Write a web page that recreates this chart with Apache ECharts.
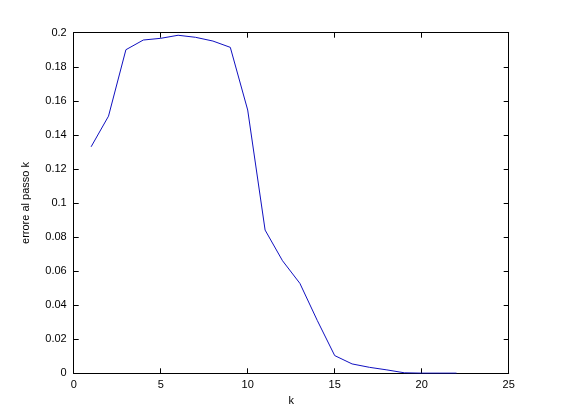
<!DOCTYPE html>
<html>
<head>
<meta charset="utf-8">
<script src="https://cdn.jsdelivr.net/npm/echarts@6/dist/echarts.min.js"></script>
<style>
  html,body{margin:0;padding:0;background:#fff;}
  #chart{width:561px;height:420px;}
</style>
</head>
<body>
<div id="chart"></div>
<script>
// k steps and error values
const steps = [1,2,3,4,5,6,7,8,9,10,11,12,13,14,15,16,17,18,19,20,21,22];
const errors = [0.133,0.151,0.190,0.1957,0.1967,0.1985,0.1973,0.1951,0.1914,0.1546,0.0841,0.0661,0.0528,0.031,0.0104,0.0055,0.0035,0.002,0.0003,0.0001,0.0001,0.0001];
const xLabel = 'k';
const yLabel = 'errore al passo k';

const chart = echarts.init(document.getElementById('chart'), null, {renderer:'canvas'});
const font = 'Liberation Sans, Arial, sans-serif';
const frame = {show:true, onZero:false, lineStyle:{color:'#000', width:1}};
const tickIn = {show:true, inside:true, length:5, lineStyle:{color:'#000'}};

chart.setOption({
  animation:false,
  backgroundColor:'#fff',
  grid:{left:73.7, right:52.3, top:32.7, bottom:46.7},
  xAxis:[
    {type:'value', min:0, max:25, interval:5, position:'bottom',
     name:xLabel, nameLocation:'middle', nameGap:22,
     nameTextStyle:{color:'#000', fontSize:11, fontFamily:font},
     axisLine:frame, axisTick:tickIn, splitLine:{show:false},
     axisLabel:{color:'#000', fontSize:11, fontFamily:font, margin:6}},
    {type:'value', min:0, max:25, interval:5, position:'top',
     axisLine:frame, axisTick:tickIn, splitLine:{show:false}, axisLabel:{show:false}}
  ],
  yAxis:[
    {type:'value', min:0, max:0.2, interval:0.02, position:'left',
     name:yLabel, nameLocation:'middle', nameGap:42,
     nameTextStyle:{color:'#000', fontSize:11, fontFamily:font},
     axisLine:frame, axisTick:tickIn, splitLine:{show:false},
     axisLabel:{color:'#000', fontSize:11, fontFamily:font, margin:7,
       formatter:v => String(+v.toFixed(2))}},
    {type:'value', min:0, max:0.2, interval:0.02, position:'right',
     axisLine:frame, axisTick:tickIn, splitLine:{show:false}, axisLabel:{show:false}}
  ],
  series:[{
    type:'line',
    data:steps.map((k,i)=>[k, errors[i]]),
    showSymbol:false,
    lineStyle:{color:'#1010c0', width:1},
    itemStyle:{color:'#1010c0'}
  }]
});
</script>
</body>
</html>
